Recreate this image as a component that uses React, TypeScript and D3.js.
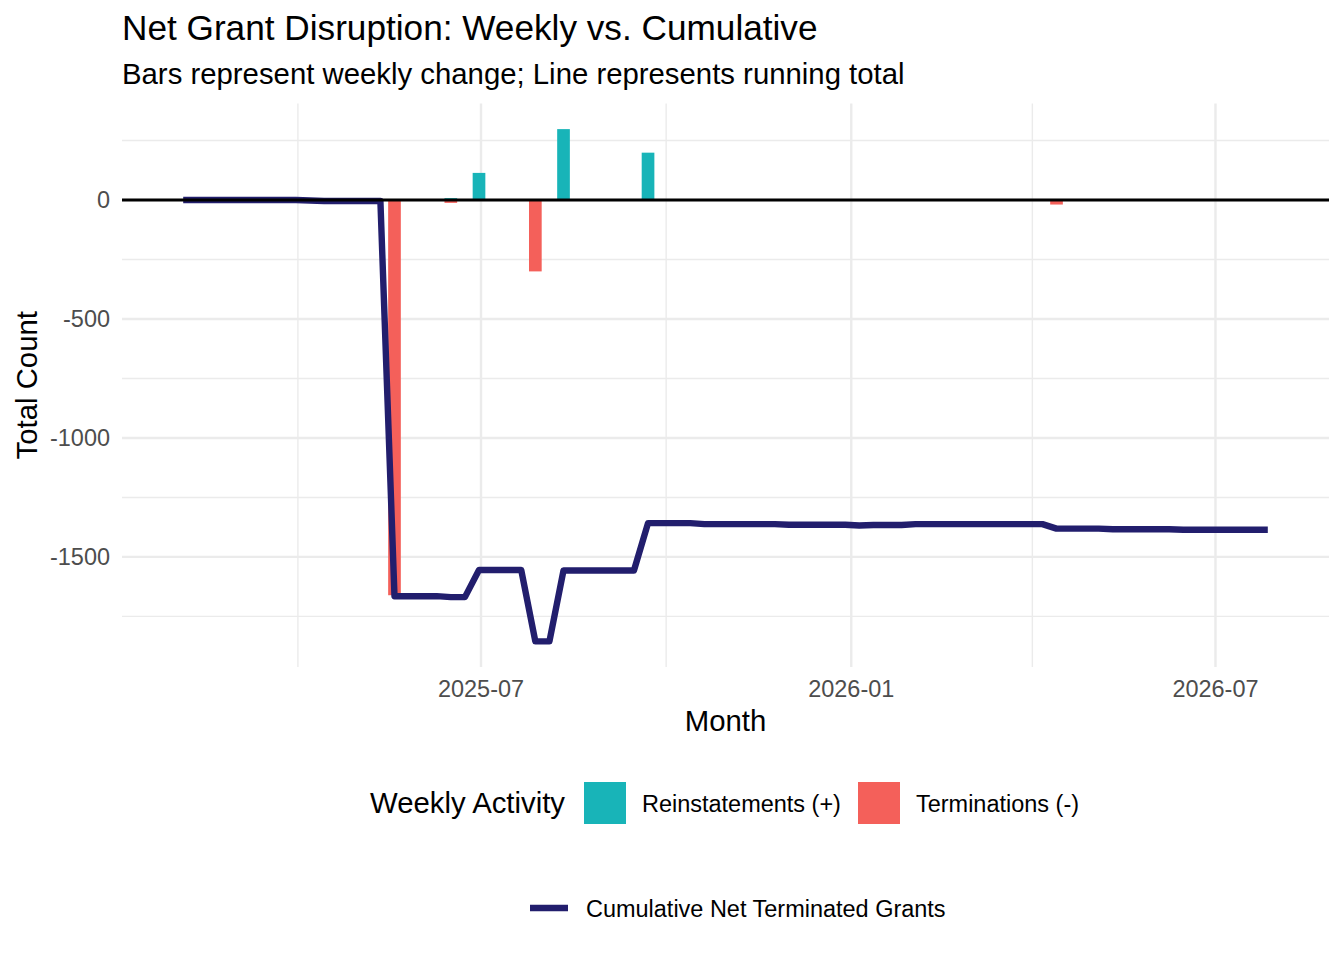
import * as d3 from "d3";

// weekly buckets (Monday starts)
const FIRST_WEEK = "2025-02-03";
const LAST_WEEK = "2026-07-27";

// running total, one value per week
const CUMULATIVE = [
  0, 0, 0, 0, 0, 0, 0, 0, 0,
  -2,
  -4, -4, -4, -4, -4,
  -1665, -1665, -1665, -1665,
  -1669, -1669,
  -1555, -1555, -1555, -1555,
  -1855, -1855,
  -1557, -1557, -1557, -1557, -1557, -1557,
  -1358, -1358, -1358, -1358,
  -1362, -1362, -1362, -1362, -1362, -1362,
  -1365, -1365, -1365, -1365, -1365,
  -1368,
  -1366, -1366, -1366,
  -1362, -1362, -1362, -1362, -1362, -1362, -1362, -1362, -1362, -1362,
  -1381, -1381, -1381, -1381,
  -1384, -1384, -1384, -1384, -1384,
  -1386, -1386, -1386, -1386, -1386, -1386, -1386,
];

// weeks with activity
const BAR_WEEKS = [
  "2025-04-07", "2025-04-14", "2025-05-19", "2025-06-16", "2025-06-30",
  "2025-07-28", "2025-08-11", "2025-09-22", "2025-10-20", "2025-12-01",
  "2026-01-05", "2026-01-12", "2026-02-02", "2026-04-13", "2026-05-11",
  "2026-06-15",
];
const REINSTATEMENTS = [0, 0, 0, 8, 114, 0, 298, 199, 0, 0, 0, 2, 4, 0, 0, 0];
const TERMINATIONS = [-2, -2, -1661, -12, 0, -300, 0, 0, -4, -3, -3, 0, 0, -19, -3, -2];

const SERIES_LABELS = ["Reinstatements (+)", "Terminations (-)"];
const SERIES_COLORS = ["#18B4B8", "#F4605A"];
const LINE_LABEL = "Cumulative Net Terminated Grants";
const LINE_COLOR = "#221E6D";

const W = 1344;
const H = 960;
const P = { left: 122, right: 1329, top: 103.5, bottom: 667 };
const FONT = "'Liberation Sans', Arial, Helvetica, sans-serif";
const DAY = 86400000;

export default function App() {
  const parse = d3.utcParse("%Y-%m-%d");
  const weeks = d3.utcMonday.range(parse(FIRST_WEEK)!, new Date(+parse(LAST_WEEK)! + DAY));
  const barDates = BAR_WEEKS.map((d) => parse(d)!);
  const half = 0.45 * 7 * DAY;

  // ggplot-style 5% expansion
  const x0 = +weeks[0] - half;
  const x1 = +weeks[weeks.length - 1] + half;
  const xPad = (x1 - x0) * 0.05;
  const x = d3
    .scaleUtc()
    .domain([new Date(x0 - xPad), new Date(x1 + xPad)])
    .range([P.left, P.right]);

  const yLo = d3.min([...CUMULATIVE, ...TERMINATIONS]) ?? 0;
  const yHi = d3.max([...CUMULATIVE, ...REINSTATEMENTS]) ?? 0;
  const yPad = (yHi - yLo) * 0.05;
  const y = d3.scaleLinear().domain([yLo - yPad, yHi + yPad]).range([P.bottom, P.top]);

  const yTicks = y.ticks(5);
  const yStep = yTicks[1] - yTicks[0];
  const yMinor = [yTicks[0] - yStep / 2, ...yTicks.map((t) => t + yStep / 2)].filter(
    (t) => t > y.domain()[0] && t < y.domain()[1],
  );
  const xTicks = x.ticks(d3.utcMonth.every(6)!);
  const xMinor = x
    .ticks(d3.utcMonth.every(3)!)
    .filter((t) => !xTicks.some((m) => +m === +t));
  const fmt = d3.utcFormat("%Y-%m");

  const line = d3
    .line<number>()
    .x((_, i) => x(weeks[i]))
    .y((d) => y(d));

  const grid = "#EBEBEB";

  return (
    <div style={{ position: "absolute", left: 0, top: 0 }}>
      <svg width={W} height={H} style={{ display: "block", background: "#fff" }} fontFamily={FONT}>
        {/* grid */}
        {yMinor.map((t) => (
          <line key={"ym" + t} x1={P.left} x2={P.right} y1={y(t)} y2={y(t)} stroke={grid} strokeWidth={1.4} />
        ))}
        {xMinor.map((t) => (
          <line key={"xm" + +t} x1={x(t)} x2={x(t)} y1={P.top} y2={P.bottom} stroke={grid} strokeWidth={1.4} />
        ))}
        {yTicks.map((t) => (
          <line key={"y" + t} x1={P.left} x2={P.right} y1={y(t)} y2={y(t)} stroke={grid} strokeWidth={2.4} />
        ))}
        {xTicks.map((t) => (
          <line key={"x" + +t} x1={x(t)} x2={x(t)} y1={P.top} y2={P.bottom} stroke={grid} strokeWidth={2.4} />
        ))}

        {/* weekly bars */}
        {barDates.map((d, i) => {
          const bx = x(new Date(+d - half));
          const bw = x(new Date(+d + half)) - bx;
          return (
            <g key={BAR_WEEKS[i]}>
              {REINSTATEMENTS[i] > 0 && (
                <rect
                  x={bx}
                  width={bw}
                  y={y(REINSTATEMENTS[i])}
                  height={y(0) - y(REINSTATEMENTS[i])}
                  fill={SERIES_COLORS[0]}
                />
              )}
              {TERMINATIONS[i] < 0 && (
                <rect
                  x={bx}
                  width={bw}
                  y={y(0)}
                  height={y(TERMINATIONS[i]) - y(0)}
                  fill={SERIES_COLORS[1]}
                />
              )}
            </g>
          );
        })}

        {/* cumulative line */}
        <path
          d={line(CUMULATIVE) ?? ""}
          fill="none"
          stroke={LINE_COLOR}
          strokeWidth={6.4}
          strokeLinejoin="round"
          strokeLinecap="butt"
        />

        {/* zero line */}
        <line x1={P.left} x2={P.right} y1={y(0)} y2={y(0)} stroke="#000" strokeWidth={2.8} />

        {/* axes text */}
        {yTicks.map((t) => (
          <text key={"yl" + t} x={110} y={y(t) + 8.4} textAnchor="end" fontSize={23.47} fill="#4D4D4D">
            {String(t)}
          </text>
        ))}
        {xTicks.map((t) => (
          <text key={"xl" + +t} x={x(t)} y={697} textAnchor="middle" fontSize={23.47} fill="#4D4D4D">
            {fmt(t)}
          </text>
        ))}
        <text x={(P.left + P.right) / 2} y={731} textAnchor="middle" fontSize={29.33} fill="#000">
          Month
        </text>
        <text
          transform={`translate(37,${(P.top + P.bottom) / 2}) rotate(-90)`}
          textAnchor="middle"
          fontSize={29.33}
          fill="#000"
        >
          Total Count
        </text>

        {/* titles */}
        <text x={P.left} y={40} fontSize={35.2} fill="#000">
          Net Grant Disruption: Weekly vs. Cumulative
        </text>
        <text x={P.left} y={83.5} fontSize={29.33} fill="#000">
          Bars represent weekly change; Line represents running total
        </text>

        {/* legend: bars */}
        <text x={370} y={813} fontSize={29.33} fill="#000">
          Weekly Activity
        </text>
        <rect x={584} y={782} width={42} height={42} fill={SERIES_COLORS[0]} />
        <text x={642} y={811.5} fontSize={23.47} fill="#000">
          {SERIES_LABELS[0]}
        </text>
        <rect x={858} y={782} width={42} height={42} fill={SERIES_COLORS[1]} />
        <text x={916} y={811.5} fontSize={23.47} fill="#000">
          {SERIES_LABELS[1]}
        </text>

        {/* legend: line */}
        <line x1={530} x2={568} y1={908} y2={908} stroke={LINE_COLOR} strokeWidth={6.4} />
        <text x={586} y={917} fontSize={23.47} fill="#000">
          {LINE_LABEL}
        </text>
      </svg>
    </div>
  );
}
